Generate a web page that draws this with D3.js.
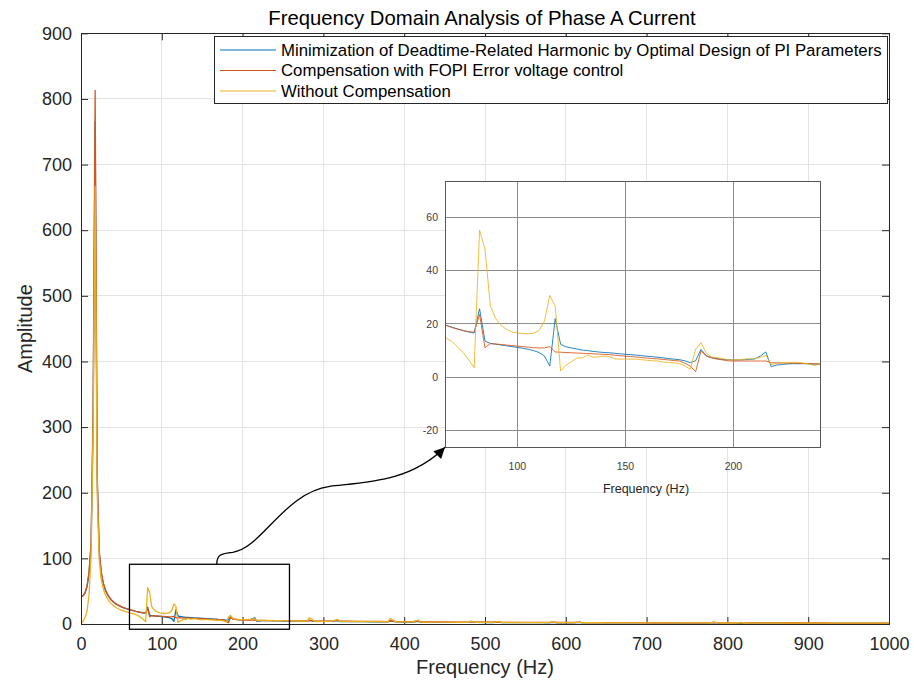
<!DOCTYPE html>
<html>
<head>
<meta charset="utf-8">
<script src="https://cdn.jsdelivr.net/npm/d3@7/dist/d3.min.js"></script>
<style>
  html, body { margin: 0; padding: 0; background: #fff; }
  svg { display: block; font-family: "Liberation Sans", Arial, Helvetica, sans-serif; }
</style>
</head>
<body>
<svg id="chart" width="914" height="681"></svg>
<script>
// Spectrum bins (Hz): 2.5 Hz resolution up to 250 Hz, coarser above with harmonic bins
const freqHz = [
  0, 2.5, 5, 7.5, 10, 12.5, 15, 17.5, 20, 22.5,
  25, 27.5, 30, 32.5, 35, 37.5, 40, 42.5, 45, 47.5,
  50, 52.5, 55, 57.5, 60, 62.5, 65, 67.5, 70, 72.5,
  75, 77.5, 80, 82.5, 85, 87.5, 90, 92.5, 95, 97.5,
  100, 102.5, 105, 107.5, 110, 112.5, 115, 117.5, 120, 122.5,
  125, 127.5, 130, 132.5, 135, 137.5, 140, 142.5, 145, 147.5,
  150, 152.5, 155, 157.5, 160, 162.5, 165, 167.5, 170, 172.5,
  175, 177.5, 180, 182.5, 185, 187.5, 190, 192.5, 195, 197.5,
  200, 202.5, 205, 207.5, 210, 212.5, 215, 217.5, 220, 222.5,
  225, 227.5, 230, 232.5, 235, 237.5, 240, 242.5, 245, 247.5,
  250,
  260, 270, 280, 282.5, 290, 300, 310, 317.5, 320, 330,
  340, 350, 360, 370, 380, 382.5, 390, 400, 410, 417.5,
  420, 430, 440, 450, 460, 470, 480, 482.5, 490, 500,
  510, 517.5, 520, 530, 540, 550, 560, 570, 580, 582.5,
  590, 600, 610, 617.5, 620, 630, 640, 650, 660, 670,
  680, 690, 700, 710, 720, 730, 740, 750, 760, 770,
  780, 782.5, 790, 800, 810, 817.5, 820, 830, 840, 850,
  860, 870, 880, 890, 900, 910, 920, 930, 940, 950,
  960, 970, 980, 990, 1000
];

// Optimal PI design
const ampPI = [
  41, 43, 47, 57, 78, 120, 310, 765, 225, 110,
  79, 62, 52, 45.5, 40.5, 36.5, 33.5, 31, 29, 27.5,
  26, 24.8, 23.8, 22.8, 21.9, 21, 20.2, 19.4, 18.7, 18.1,
  17.5, 17.0, 16.6, 25.7, 13.6, 12.7, 12.4, 12.1, 11.8, 11.5,
  11.2, 10.9, 10.5, 10.0, 9.3, 8.0, 4.2, 22.0, 12.4, 11.4,
  11.0, 10.6, 10.2, 10.0, 9.7, 9.5, 9.3, 9.2, 9.0, 8.8,
  8.6, 8.5, 8.3, 8.1, 7.9, 7.7, 7.5, 7.3, 7.0, 6.8,
  6.6, 6.2, 5.5, 6.2, 10.5, 8.0, 7.4, 7.0, 6.7, 6.6,
  6.5, 6.5, 6.6, 6.7, 6.9, 8.0, 9.5, 4.0, 4.6, 4.8,
  5.0, 5.1, 5.1, 5.1, 5.0, 4.9, 4.8, 4.8, 4.7, 4.7,
  4.6,
  4.6, 4.5, 4.3, 5.5, 4.1, 4.0, 3.9, 5.0, 3.8, 3.7,
  3.6, 3.5, 3.4, 3.3, 3.2, 4.8, 3.1, 3.0, 2.9, 4.0,
  2.9, 2.8, 2.7, 2.6, 2.6, 2.5, 2.4, 3.6, 2.4, 2.3,
  2.3, 3.2, 2.2, 2.2, 2.1, 2.1, 2.0, 2.0, 1.9, 2.6,
  1.9, 1.9, 1.8, 2.4, 1.8, 1.8, 1.7, 1.7, 1.7, 1.6,
  1.6, 1.6, 1.6, 1.5, 1.5, 1.5, 1.5, 1.4, 1.4, 1.4,
  1.4, 2.2, 1.4, 1.3, 1.3, 1.9, 1.3, 1.3, 1.3, 1.2,
  1.2, 1.2, 1.2, 1.2, 1.1, 1.1, 1.1, 1.1, 1.1, 1.1,
  1.0, 1.0, 1.0, 1.0, 1.0
];

// FOPI error-voltage compensation
const ampFOPI = [
  41, 43, 48, 58, 80, 125, 330, 813, 230, 112,
  80, 63, 53, 46, 41, 37, 34, 31.5, 29.5, 28,
  26.5, 25, 24, 23, 22, 21, 20.2, 19.3, 18.6, 18,
  17.5, 17.1, 16.9, 23.6, 11.1, 12.6, 12.5, 12.3, 12.1, 11.9,
  11.7, 11.5, 11.3, 11.1, 11.0, 11.0, 11.5, 9.5, 9.4, 9.3,
  9.2, 9.1, 9.0, 8.9, 8.8, 8.7, 8.6, 8.5, 8.3, 8.1,
  7.9, 7.8, 7.6, 7.4, 7.2, 7.0, 6.9, 6.7, 6.5, 6.3,
  6.1, 5.3, 4.2, 2.1, 9.9, 8.0, 7.2, 6.8, 6.5, 6.2,
  6.1, 6.1, 6.1, 6.1, 6.1, 6.1, 6.1, 5.5, 5.4, 5.4,
  5.3, 5.3, 5.2, 5.2, 5.2, 5.1, 5.1, 5.1, 5.0, 5.0,
  5.0,
  5.0, 4.9, 4.8, 5.6, 4.6, 4.5, 4.4, 5.8, 4.3, 4.2,
  4.1, 4.0, 3.9, 3.8, 3.7, 5.0, 3.6, 3.5, 3.4, 4.6,
  3.3, 3.2, 3.2, 3.1, 3.0, 3.0, 2.9, 3.8, 2.8, 2.8,
  2.7, 3.4, 2.7, 2.6, 2.6, 2.5, 2.5, 2.4, 2.4, 3.0,
  2.3, 2.3, 2.3, 2.8, 2.2, 2.2, 2.1, 2.1, 2.1, 2.0,
  2.0, 2.0, 1.9, 1.9, 1.9, 1.9, 1.8, 1.8, 1.8, 1.8,
  1.7, 2.6, 1.7, 1.7, 1.7, 2.2, 1.6, 1.6, 1.6, 1.6,
  1.6, 1.5, 1.5, 1.5, 1.5, 1.5, 1.5, 1.4, 1.4, 1.4,
  1.4, 1.4, 1.3, 1.3, 1.3
];

// No dead-time compensation
const ampNone = [
  0.5, 4, 10, 20, 45, 105, 290, 667, 200, 98,
  68, 54, 45, 39, 34.5, 31, 28, 26, 24, 22.5,
  21, 20, 19, 18, 17, 16.2, 15.5, 14.5, 13.3, 11.2,
  9.2, 6.5, 3.6, 55.2, 48, 26.7, 22, 19.4, 18, 17,
  16.6, 16.4, 16.3, 16.5, 17.5, 21, 30.7, 26.7, 2.4, 4.5,
  5.8, 7.2, 7.2, 8.4, 7.5, 7.7, 8.0, 7.8, 6.9, 6.8,
  6.8, 6.8, 6.8, 6.6, 6.4, 6.2, 6.1, 5.7, 5.5, 5.4,
  5.2, 4.3, 3.0, 10.5, 13, 9, 7.6, 7.4, 7.0, 6.6,
  6.5, 6.6, 6.8, 6.9, 7.0, 7.5, 8.2, 4.8, 5.2, 5.4,
  5.6, 5.6, 5.6, 5.3, 5.0, 4.4, 5.0, 5.1, 5.2, 5.1,
  5.0,
  4.8, 4.6, 4.4, 9.6, 3.8, 4.0, 4.1, 7.0, 4.0, 3.9,
  3.8, 3.7, 3.6, 3.5, 3.4, 8.6, 3.2, 3.2, 3.1, 6.0,
  3.0, 3.0, 2.9, 2.8, 2.8, 2.7, 2.6, 4.5, 2.5, 2.5,
  2.4, 4.0, 2.4, 2.3, 2.3, 2.2, 2.2, 2.1, 2.1, 3.2,
  2.0, 2.0, 2.0, 3.0, 1.9, 1.9, 1.9, 1.8, 1.8, 1.8,
  1.8, 1.7, 1.7, 1.7, 1.7, 1.6, 1.6, 1.6, 1.6, 1.6,
  1.5, 3.2, 1.5, 1.5, 1.5, 2.4, 1.5, 1.4, 1.4, 1.4,
  1.4, 1.4, 1.3, 1.3, 1.3, 1.3, 1.3, 1.3, 1.2, 1.2,
  1.2, 1.2, 1.2, 1.2, 1.2
];

const seriesNames = [
  "Minimization of Deadtime-Related Harmonic by Optimal Design of PI Parameters",
  "Compensation with FOPI Error voltage control",
  "Without Compensation"
];
const seriesColors = ["#0072BD", "#D95319", "#EDB120"];

const xTicks = [0, 100, 200, 300, 400, 500, 600, 700, 800, 900, 1000];
const yTicks = [0, 100, 200, 300, 400, 500, 600, 700, 800, 900];
const insetXTicks = [100, 150, 200];
const insetYTicks = [-20, 0, 20, 40, 60];

// Region of the spectrum that is magnified in the inset (Hz, amplitude)
const zoomBoxX = [60, 258];
const zoomBoxY = [-8, 91];

[ampPI, ampFOPI, ampNone].forEach((a, i) => {
  if (a.length !== freqHz.length) throw new Error("series " + i + " length " + a.length + " vs " + freqHz.length);
});
const series = [ampPI, ampFOPI, ampNone].map((vals, i) => ({
  name: seriesNames[i],
  color: seriesColors[i],
  points: freqHz.map((f, k) => [f, vals[k]])
}));

const svg = d3.select("#chart");
const axisColor = "#262626";

// ---------- main axes ----------
const x = d3.scaleLinear().domain([0, 1000]).range([81, 889]);
const y = d3.scaleLinear().domain([0, 900]).range([624, 33.3]);
const [x0, x1] = x.range();
const [y0, y1] = y.range();

svg.append("defs").append("clipPath").attr("id", "mainClip")
  .append("rect").attr("x", x0).attr("y", y1).attr("width", x1 - x0).attr("height", y0 - y1);

const grid = svg.append("g").attr("shape-rendering", "crispEdges");
grid.selectAll(".gx").data(xTicks.slice(1, -1)).join("line")
  .attr("x1", d => x(d)).attr("x2", d => x(d)).attr("y1", y1).attr("y2", y0)
  .attr("stroke", "#e3e3e3");
grid.selectAll(".gy").data(yTicks.slice(1, -1)).join("line")
  .attr("x1", x0).attr("x2", x1).attr("y1", d => y(d)).attr("y2", d => y(d))
  .attr("stroke", "#e3e3e3");

const tickLen = 7;
function styleAxis(g) {
  g.select(".domain").remove();
  g.selectAll(".tick line").attr("stroke", axisColor);
  g.selectAll(".tick text").attr("fill", axisColor).attr("font-size", 18)
    .attr("font-family", "'Liberation Sans', Arial, sans-serif");
}
svg.append("g").attr("transform", `translate(0,${y0})`)
  .call(d3.axisBottom(x).tickValues(xTicks).tickSize(-tickLen).tickPadding(13).tickFormat(d3.format("d")))
  .call(styleAxis);
svg.append("g").attr("transform", `translate(0,${y1})`)
  .call(d3.axisTop(x).tickValues(xTicks).tickSize(-tickLen).tickFormat(""))
  .call(styleAxis);
svg.append("g").attr("transform", `translate(${x0},0)`)
  .call(d3.axisLeft(y).tickValues(yTicks).tickSize(-tickLen).tickPadding(9).tickFormat(d3.format("d")))
  .call(styleAxis);
svg.append("g").attr("transform", `translate(${x1},0)`)
  .call(d3.axisRight(y).tickValues(yTicks).tickSize(-tickLen).tickFormat(""))
  .call(styleAxis);

// spectra
const line = d3.line().x(d => x(d[0])).y(d => y(d[1]));
svg.append("g").attr("clip-path", "url(#mainClip)")
  .selectAll("path").data(series).join("path")
  .attr("d", d => line(d.points))
  .attr("fill", "none").attr("stroke", d => d.color)
  .attr("stroke-width", 1.3).attr("stroke-linejoin", "round");

// axes box
svg.append("rect").attr("x", x0).attr("y", y1).attr("width", x1 - x0).attr("height", y0 - y1)
  .attr("fill", "none").attr("stroke", axisColor).attr("stroke-width", 1)
  .attr("shape-rendering", "crispEdges");

// magnified region outline
const bx0 = x(zoomBoxX[0]), bx1 = x(zoomBoxX[1]);
const byTop = y(zoomBoxY[1]), byBot = y(zoomBoxY[0]);
svg.append("rect").attr("x", bx0).attr("y", byTop).attr("width", bx1 - bx0).attr("height", byBot - byTop)
  .attr("fill", "none").attr("stroke", "#000").attr("stroke-width", 1.3);

// titles
svg.append("text").attr("x", 482).attr("y", 25).attr("text-anchor", "middle")
  .attr("font-size", 20.3).attr("fill", "#000").text("Frequency Domain Analysis of Phase A Current");
svg.append("text").attr("x", (x0 + x1) / 2).attr("y", 674).attr("text-anchor", "middle")
  .attr("font-size", 20).attr("fill", axisColor).text("Frequency (Hz)");
svg.append("text").attr("transform", `translate(32,${(y0 + y1) / 2}) rotate(-90)`)
  .attr("text-anchor", "middle").attr("font-size", 20).attr("fill", axisColor).text("Amplitude");

// ---------- legend ----------
const lg = svg.append("g");
lg.append("rect").attr("x", 214.5).attr("y", 36.5).attr("width", 673).attr("height", 67)
  .attr("fill", "#fff").attr("stroke", axisColor).attr("stroke-width", 1);
series.forEach((s, i) => {
  const cy = 50 + i * 20.5;
  lg.append("line").attr("x1", 220).attr("x2", 276).attr("y1", cy).attr("y2", cy)
    .attr("stroke", s.color).attr("stroke-width", 1);
  lg.append("text").attr("x", 281).attr("y", cy).attr("dy", "0.35em")
    .attr("font-size", 16.8).attr("fill", "#000").text(s.name);
});

// ---------- inset ----------
const ix = d3.scaleLinear().domain([66.5, 240.4]).range([445, 820.7]);
const iy = d3.scaleLinear().domain([-26.25, 73.6]).range([447.3, 181]);
const [ix0, ix1] = ix.range();
const [iy0, iy1] = iy.range();

svg.select("defs").append("clipPath").attr("id", "insetClip")
  .append("rect").attr("x", ix0).attr("y", iy1).attr("width", ix1 - ix0).attr("height", iy0 - iy1);

const inset = svg.append("g");
inset.append("rect").attr("x", ix0).attr("y", iy1).attr("width", ix1 - ix0).attr("height", iy0 - iy1)
  .attr("fill", "#fff");
const ig = inset.append("g").attr("shape-rendering", "crispEdges");
ig.selectAll(".ix").data(insetXTicks).join("line")
  .attr("x1", d => ix(d)).attr("x2", d => ix(d)).attr("y1", iy1).attr("y2", iy0)
  .attr("stroke", "#8c8c8c");
ig.selectAll(".iy").data(insetYTicks).join("line")
  .attr("x1", ix0).attr("x2", ix1).attr("y1", d => iy(d)).attr("y2", d => iy(d))
  .attr("stroke", "#8c8c8c");

const iline = d3.line().x(d => ix(d[0])).y(d => iy(d[1]));
inset.append("g").attr("clip-path", "url(#insetClip)")
  .selectAll("path").data(series).join("path")
  .attr("d", d => iline(d.points))
  .attr("fill", "none").attr("stroke", d => d.color).attr("stroke-opacity", 0.85)
  .attr("stroke-width", 1).attr("stroke-linejoin", "round");

inset.append("rect").attr("x", ix0).attr("y", iy1).attr("width", ix1 - ix0).attr("height", iy0 - iy1)
  .attr("fill", "none").attr("stroke", "#555").attr("stroke-width", 1)
  .attr("shape-rendering", "crispEdges");

inset.selectAll(".ixl").data(insetXTicks).join("text")
  .attr("x", d => ix(d)).attr("y", 470).attr("text-anchor", "middle")
  .attr("font-size", 10.5).attr("fill", "#404040").text(d => d);
inset.selectAll(".iyl").data(insetYTicks).join("text")
  .attr("x", 438).attr("y", d => iy(d)).attr("dy", "0.35em").attr("text-anchor", "end")
  .attr("font-size", 10.5).attr("fill", "#404040").text(d => d);
inset.append("text").attr("x", 646).attr("y", 493).attr("text-anchor", "middle")
  .attr("font-size", 12.5).attr("fill", "#262626").text("Frequency (Hz)");

// ---------- connector arrow ----------
svg.select("defs").append("marker").attr("id", "arrowHead")
  .attr("viewBox", "0 0 10 10").attr("refX", 10).attr("refY", 5)
  .attr("markerUnits", "userSpaceOnUse").attr("markerWidth", 15).attr("markerHeight", 11)
  .attr("orient", "auto")
  .append("path").attr("d", "M0,0 L10,5 L0,10 Z").attr("fill", "#000");

const sx = x(168), sy = byTop;
const ex = ix0, ey = iy0;
const arrow = d3.path();
arrow.moveTo(sx, sy);
arrow.bezierCurveTo(sx, sy - 9, sx + 4, sy - 11, sx + 16, sy - 12);
arrow.bezierCurveTo(sx + 45, sy - 16, sx + 68, sy - 72, sx + 113, sy - 78);
arrow.bezierCurveTo(sx + 148, sy - 82, ex - 35, ey + 35, ex, ey);
svg.append("path").attr("d", arrow.toString())
  .attr("fill", "none").attr("stroke", "#000").attr("stroke-width", 1.3)
  .attr("marker-end", "url(#arrowHead)");
</script>
</body>
</html>
